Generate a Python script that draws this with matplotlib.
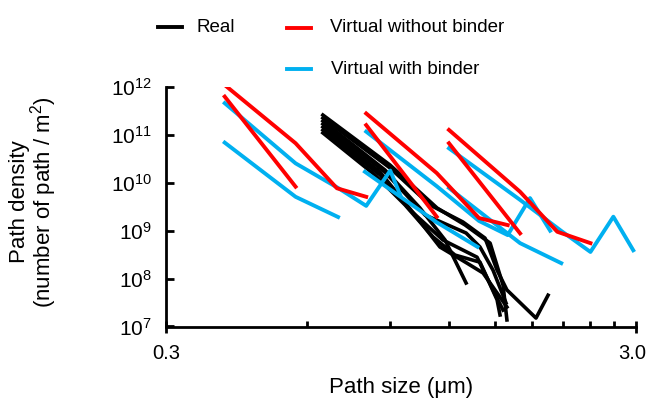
import matplotlib
matplotlib.use("Agg")
import matplotlib.pyplot as plt
import matplotlib.transforms as mtransforms
from matplotlib.lines import Line2D
from matplotlib import font_manager
from matplotlib.ticker import FixedLocator, FixedFormatter, NullFormatter, NullLocator

# ---------------- data ----------------
# Real paths (black)
real_sizes = [
    [0.647, 0.899, 1.132, 1.298, 1.468, 1.564, 1.594],
    [0.647, 0.899, 1.094, 1.285, 1.432, 1.519, 1.594, 1.838, 1.95],
    [0.647, 0.877, 1.041, 1.177, 1.305],
    [0.647, 0.877, 1.067, 1.305, 1.397, 1.489, 1.587],
    [0.647, 0.856, 1.016, 1.148, 1.311, 1.418, 1.541, 1.594],
    [0.647, 0.856, 0.992, 1.165, 1.377, 1.489, 1.564],
    [0.647, 0.835, 0.968, 1.110, 1.236, 1.397, 1.519, 1.541],
]
real_density = [
    [2.6e11, 2.35e10, 2.98e9, 1.32e9, 5.5e8, 7.3e7, 1.37e7],
    [2.25e11, 2.04e10, 3.44e9, 1.52e9, 7.0e8, 1.5e8, 5.8e7, 1.5e7, 4.5e7],
    [1.95e11, 1.85e10, 2.98e9, 6.4e8, 8.1e7],
    [1.69e11, 1.68e10, 2.13e9, 8.95e8, 4.57e8, 1.5e8, 3.1e7],
    [1.46e11, 1.68e10, 2.13e9, 4.57e8, 2.1e8, 1.31e8, 4.1e7, 2.55e7],
    [1.26e11, 1.46e10, 2.7e9, 6.4e8, 2.8e8, 5.8e7, 2.2e7],
    [1.1e11, 1.46e10, 3.44e9, 7.4e8, 3.1e8, 2.2e8, 3.6e7, 1.74e7],
]

# Virtual without binder (red)
nob_sizes = [
    [0.40, 0.566, 0.693, 0.80],
    [0.40, 0.566],
    [0.80, 1.13, 1.39, 1.60],
    [0.80, 1.13],
    [1.20, 1.70, 2.04, 2.40],
    [1.20, 1.70],
]
nob_density = [
    [1.1e12, 6.7e10, 7.7e9, 5.1e9],
    [6.3e11, 8.3e9],
    [2.8e11, 1.6e10, 1.84e9, 1.31e9],
    [1.6e11, 1.96e9],
    [1.27e11, 6.5e9, 9.5e8, 5.5e8],
    [6.7e10, 8.8e8],
]

# Virtual with binder (blue)
bind_sizes = [
    [0.40, 0.566, 0.697, 0.80, 0.90, 0.945],
    [0.40, 0.566, 0.697],
    [0.80, 1.13, 1.39, 1.60, 1.785, 1.97],
    [0.795, 1.13, 1.38],
    [1.20, 1.70, 2.08, 2.40, 2.685, 2.96],
    [1.20, 1.70, 2.08],
]
bind_density = [
    [4.6e11, 2.55e10, 7.8e9, 3.3e9, 1.8e10, 5.6e9],
    [6.9e10, 5.1e9, 1.93e9],
    [1.17e11, 8.5e9, 1.6e9, 8.1e8, 4.8e9, 1.0e9],
    [1.7e10, 1.5e9, 4.6e8],
    [5.25e10, 4.4e9, 9.9e8, 3.6e8, 1.96e9, 3.9e8],
    [7.8e9, 5.5e8, 2.1e8],
]

x_major = [0.3, 3.0]
x_major_labels = ["0.3", "3.0"]
x_minor = [0.6, 0.9, 1.2, 1.5, 1.8, 2.1, 2.4, 2.7]
y_ticks = [1e7, 1e8, 1e9, 1e10, 1e11, 1e12]
y_labels = [r"$10^{7}$", r"$10^{8}$", r"$10^{9}$", r"$10^{10}$", r"$10^{11}$", r"$10^{12}$"]

legend_labels = ["Real", "Virtual without binder", "Virtual with binder"]
colors = {"real": "#000000", "nob": "#FF0000", "bind": "#00B0F0"}

# ---------------- style ----------------
plt.rcParams["font.family"] = ["Liberation Sans", "DejaVu Sans"]
plt.rcParams["mathtext.fontset"] = "custom"
plt.rcParams["mathtext.rm"] = "Liberation Sans"
plt.rcParams["mathtext.it"] = "Liberation Sans:italic"
plt.rcParams["mathtext.bf"] = "Liberation Sans:bold"

try:
    font_manager.findfont("Liberation Sans Narrow", fallback_to_default=False)
    legend_font = dict(family=["Liberation Sans Narrow", "DejaVu Sans"], size=16)
except Exception:
    legend_font = dict(family=["Liberation Sans", "DejaVu Sans"], size=13.5)

W, H = 649, 400
fig = plt.figure(figsize=(W / 100, H / 100), dpi=100)
ax = fig.add_axes([166 / W, 1 - 326.5 / H, (636 - 166) / W, (326.5 - 87) / H])

for xs, ys in zip(real_sizes, real_density):
    ax.plot(xs, ys, color=colors["real"], lw=2.6, zorder=2, solid_joinstyle="round")
for xs, ys in zip(bind_sizes, bind_density):
    ax.plot(xs, ys, color=colors["bind"], lw=2.8, zorder=3, solid_joinstyle="round")
for xs, ys in zip(nob_sizes, nob_density):
    ax.plot(xs, ys, color=colors["nob"], lw=2.8, zorder=4, solid_joinstyle="round")

ax.set_xscale("log")
ax.set_yscale("log")
ax.set_xlim(0.3, 3.0)
ax.set_ylim(1e7, 1e12)

ax.xaxis.set_major_locator(FixedLocator(x_major))
ax.xaxis.set_major_formatter(FixedFormatter(x_major_labels))
ax.xaxis.set_minor_locator(FixedLocator(x_minor))
ax.xaxis.set_minor_formatter(NullFormatter())
ax.yaxis.set_major_locator(FixedLocator(y_ticks))
ax.yaxis.set_major_formatter(FixedFormatter(y_labels))
ax.yaxis.set_minor_locator(NullLocator())

for s in ["top", "right"]:
    ax.spines[s].set_visible(False)
for s in ["left", "bottom"]:
    ax.spines[s].set_linewidth(2)
    ax.spines[s].set_color("black")

ax.tick_params(axis="x", which="major", direction="inout", length=9, width=2,
               labelsize=14.5, pad=8)
ax.tick_params(axis="x", which="minor", direction="in", length=4, width=2)
ax.tick_params(axis="y", which="major", direction="in", length=6, width=2,
               labelsize=15, pad=10)

# keep the "3.0" label inside the canvas, as in the reference
fig.canvas.draw()
xlabels = ax.get_xticklabels()
shift = mtransforms.ScaledTranslation(-4 / 100, 0, fig.dpi_scale_trans)
xlabels[-1].set_transform(xlabels[-1].get_transform() + shift)

ax.set_xlabel("Path size (\u03bcm)", fontsize=16, labelpad=10)
fig.text(34 / W, 1 - 202 / H, "Path density\n(number of path / m$^{2}$)",
         rotation=90, ha="center", va="center", fontsize=16,
         multialignment="center", linespacing=0.95)

# ---------------- legend (manual placement) ----------------
def leg_entry(x0, x1, y, color, label, tx):
    fig.add_artist(Line2D([x0 / W, x1 / W], [1 - y / H, 1 - y / H],
                          transform=fig.transFigure, color=color, lw=2.8))
    fig.text(tx / W, 1 - y / H, label, ha="left", va="center", **legend_font)

leg_entry(158, 182, 27, colors["real"], legend_labels[0], 197)
leg_entry(287, 311, 28, colors["nob"], legend_labels[1], 330)
leg_entry(287, 311, 69, colors["bind"], legend_labels[2], 331)

fig.savefig("out.png", dpi=100)
